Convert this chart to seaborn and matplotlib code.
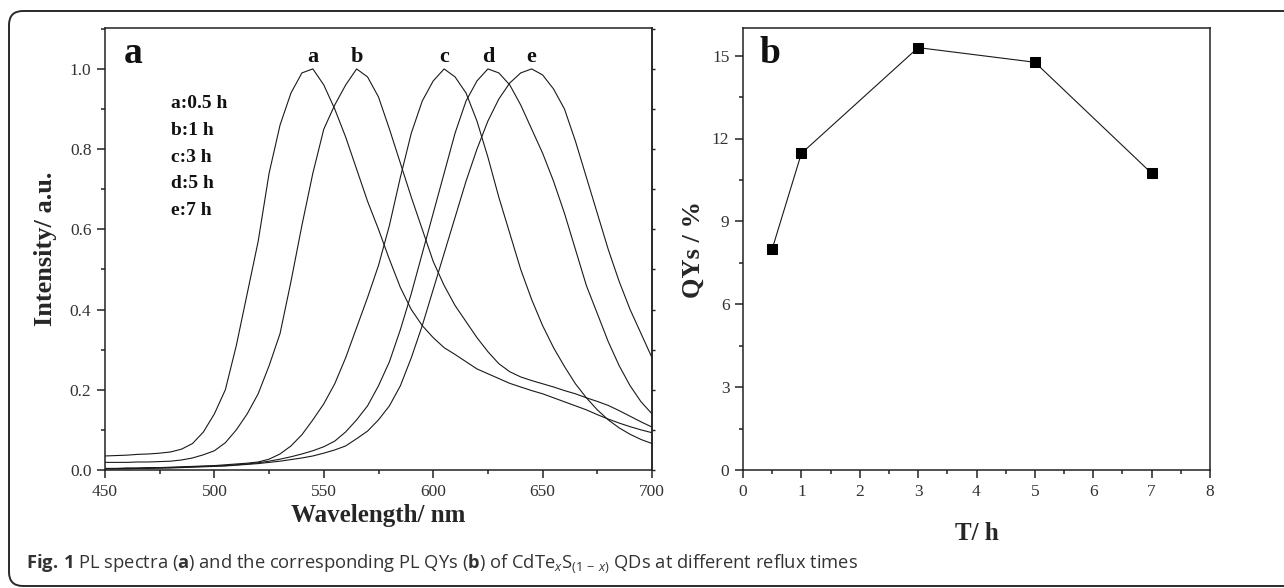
import numpy as np
import pandas as pd
import matplotlib
matplotlib.use("Agg")
import matplotlib.pyplot as plt
import seaborn as sns
from matplotlib.patches import FancyBboxPatch
from matplotlib.transforms import IdentityTransform
from matplotlib.ticker import MultipleLocator, NullFormatter

# ---------------- data ----------------
wavelength = list(range(450, 701, 5))

a_int = [0.035, 0.036, 0.037, 0.039, 0.040, 0.042, 0.045, 0.052, 0.066, 0.095,
         0.14, 0.20, 0.31, 0.44, 0.57, 0.74, 0.86, 0.94, 0.99, 1.00,
         0.96, 0.90, 0.83, 0.75, 0.67, 0.60, 0.525, 0.455, 0.40, 0.36,
         0.33, 0.305, 0.288, 0.27, 0.252, 0.24, 0.228, 0.216, 0.207, 0.198,
         0.19, 0.18, 0.17, 0.16, 0.15, 0.138, 0.127, 0.117, 0.108, 0.10, 0.093]
b_int = [0.019, 0.019, 0.019, 0.020, 0.020, 0.021, 0.022, 0.025, 0.030, 0.038,
         0.048, 0.068, 0.10, 0.14, 0.19, 0.26, 0.34, 0.47, 0.61, 0.74,
         0.85, 0.91, 0.96, 1.00, 0.98, 0.93, 0.85, 0.765, 0.68, 0.60,
         0.52, 0.46, 0.41, 0.37, 0.33, 0.295, 0.265, 0.245, 0.232, 0.223,
         0.215, 0.207, 0.198, 0.19, 0.18, 0.171, 0.161, 0.148, 0.134, 0.12, 0.107]
c_int = [0.004, 0.004, 0.005, 0.005, 0.006, 0.006, 0.007, 0.008, 0.009, 0.010,
         0.011, 0.013, 0.015, 0.017, 0.020, 0.027, 0.040, 0.060, 0.088, 0.125,
         0.165, 0.215, 0.28, 0.355, 0.43, 0.51, 0.61, 0.73, 0.84, 0.92,
         0.97, 1.00, 0.98, 0.94, 0.87, 0.78, 0.68, 0.59, 0.50, 0.425,
         0.36, 0.305, 0.258, 0.215, 0.18, 0.15, 0.125, 0.105, 0.089, 0.076, 0.066]
d_int = [0.003, 0.003, 0.004, 0.004, 0.005, 0.005, 0.006, 0.007, 0.008, 0.009,
         0.010, 0.011, 0.013, 0.015, 0.018, 0.022, 0.027, 0.033, 0.040, 0.048,
         0.058, 0.072, 0.095, 0.125, 0.16, 0.21, 0.27, 0.35, 0.44, 0.54,
         0.64, 0.74, 0.84, 0.92, 0.97, 1.00, 0.99, 0.96, 0.91, 0.85,
         0.79, 0.72, 0.64, 0.55, 0.46, 0.39, 0.32, 0.26, 0.21, 0.17, 0.14]
e_int = [0.003, 0.003, 0.003, 0.004, 0.004, 0.005, 0.005, 0.006, 0.007, 0.008,
         0.009, 0.010, 0.012, 0.014, 0.016, 0.019, 0.022, 0.026, 0.030, 0.035,
         0.042, 0.050, 0.060, 0.078, 0.097, 0.125, 0.16, 0.21, 0.28, 0.36,
         0.45, 0.54, 0.63, 0.72, 0.80, 0.87, 0.925, 0.965, 0.99, 1.00,
         0.985, 0.95, 0.90, 0.82, 0.73, 0.64, 0.55, 0.47, 0.40, 0.34, 0.28]

sample_names = ["a", "b", "c", "d", "e"]
legend_lines = ["a:0.5 h", "b:1 h", "c:3 h", "d:5 h", "e:7 h"]

reflux_time = [0.5, 1, 3, 5, 7]
qy_percent = [8.0, 11.46, 15.29, 14.76, 10.74]

x_ticks_a = [450, 500, 550, 600, 650, 700]
y_ticks_a = [0.0, 0.2, 0.4, 0.6, 0.8, 1.0]
x_ticks_b = [0, 1, 2, 3, 4, 5, 6, 7, 8]
y_ticks_b = [0, 3, 6, 9, 12, 15]

# ---------------- frames ----------------
spectra = {"a": a_int, "b": b_int, "c": c_int, "d": d_int, "e": e_int}
df_pl = pd.concat(
    [pd.DataFrame({"wavelength": wavelength, "intensity": v, "sample": k})
     for k, v in spectra.items()],
    ignore_index=True,
)
df_qy = pd.DataFrame({"time": reflux_time, "qy": qy_percent})

# ---------------- style ----------------
sns.set_theme(style="ticks")
plt.rcParams["font.family"] = ["Liberation Serif", "DejaVu Serif"]
plt.rcParams["mathtext.fontset"] = "custom"
plt.rcParams["mathtext.rm"] = "Open Sans"
plt.rcParams["mathtext.it"] = "Open Sans:italic"
plt.rcParams["mathtext.bf"] = "Open Sans:bold"

W, H = 1284, 588
fig = plt.figure(figsize=(W / 100, H / 100), dpi=100)
fig.patch.set_facecolor("white")

ax1 = fig.add_axes([105 / W, 1 - 470 / H, 547 / W, 442 / H])
ax2 = fig.add_axes([743 / W, 1 - 470 / H, 467 / W, 442 / H])

line_col = "#1a1a1a"

# ---- panel a ----
sns.lineplot(data=df_pl, x="wavelength", y="intensity", hue="sample",
             palette={k: line_col for k in sample_names}, estimator=None,
             linewidth=0.8, legend=False, ax=ax1)
ax1.set_xlim(450, 700)
ax1.set_ylim(0, 1.102)
ax1.set_xticks(x_ticks_a)
ax1.set_yticks(y_ticks_a)
ax1.set_yticklabels([f"{v:.1f}" for v in y_ticks_a])
ax1.xaxis.set_minor_locator(MultipleLocator(25))
ax1.yaxis.set_minor_locator(MultipleLocator(0.1))
ax1.set_xlabel("Wavelength/ nm", fontsize=18, fontweight="bold", labelpad=3)
ax1.set_ylabel("Intensity/ a.u.", fontsize=19, fontweight="bold", labelpad=9)

for name in sample_names:
    sub = df_pl[df_pl["sample"] == name]
    pk = sub.loc[sub["intensity"].idxmax()]
    ax1.text(pk["wavelength"], 1.017, name, ha="center", va="baseline",
             fontsize=16, fontweight="bold", color="#111111")

for i, t in enumerate(legend_lines):
    ax1.text(480, 0.902 - i * 0.0665, t, ha="left", va="baseline",
             fontsize=14, fontweight="bold", color="#111111")

ax1.text(0.051, 0.9215, "a", transform=ax1.transAxes, ha="center", va="baseline",
         fontsize=27, fontweight="bold", color="#111111")

# ---- panel b ----
sns.lineplot(data=df_qy, x="time", y="qy", color=line_col, linewidth=0.8,
             marker="s", markersize=7.5, markeredgecolor="black",
             markerfacecolor="black", ax=ax2)
ax2.set_xlim(0, 8)
ax2.set_ylim(0, 16.0)
ax2.set_xticks(x_ticks_b)
ax2.set_yticks(y_ticks_b)
ax2.xaxis.set_minor_locator(MultipleLocator(0.5))
ax2.yaxis.set_minor_locator(MultipleLocator(1.5))
ax2.set_xlabel("T/ h", fontsize=18, fontweight="bold", labelpad=16)
ax2.set_ylabel("QYs / %", fontsize=19, fontweight="bold", labelpad=5)
ax2.text(0.058, 0.9215, "b", transform=ax2.transAxes, ha="center", va="baseline",
         fontsize=27, fontweight="bold", color="#111111")

for ax in (ax1, ax2):
    for sp in ax.spines.values():
        sp.set_visible(True)
        sp.set_linewidth(1.1)
        sp.set_color("#222222")
    ax.tick_params(which="major", direction="out", length=5.8, width=1.1,
                   labelsize=12.5, pad=4, colors="#222222", labelcolor="#333333")
    ax.tick_params(which="minor", direction="out", length=3, width=1.1,
                   colors="#222222")
    ax.set_facecolor("white")
    ax.grid(False)

# short ticks on the right spine of panel a
sec = ax1.secondary_yaxis("right")
sec.yaxis.set_major_locator(MultipleLocator(0.1))
sec.yaxis.set_major_formatter(NullFormatter())
sec.tick_params(which="major", direction="out", length=2.5, width=1.0,
                colors="#222222")
sec.spines["right"].set_linewidth(1.1)
sec.spines["right"].set_color("#222222")

# ---- caption ----
caption = (r"$\mathbf{Fig.\,1}$ PL spectra ($\mathbf{a}$) and the corresponding PL QYs "
           r"($\mathbf{b}$) of CdTe$_{x}$S$_{(1\,-\,x)}$ QDs at different reflux times")
fig.text(26 / W, 1 - 568 / H, caption, ha="left", va="baseline",
         fontsize=13.2, color="#333333", family="Open Sans")

# ---- rounded outer frame ----
frame = FancyBboxPatch((9, 2), 1300, 575, boxstyle="round,pad=0,rounding_size=14",
                       transform=IdentityTransform(), fill=False,
                       edgecolor="#2a2a2a", linewidth=1.4)
fig.patches.append(frame)

fig.savefig("out.png", dpi=100)
